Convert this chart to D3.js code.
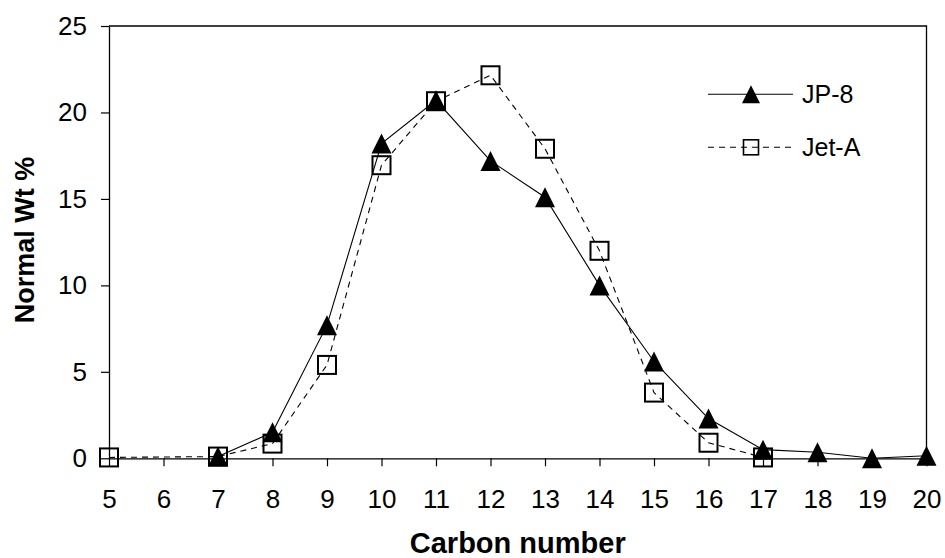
<!DOCTYPE html>
<html>
<head>
<meta charset="utf-8">
<script src="https://cdn.jsdelivr.net/npm/d3@7"></script>
<style>
  html, body { margin: 0; padding: 0; background: #fff; }
  svg { display: block; font-family: "Liberation Sans", Arial, sans-serif; }
</style>
</head>
<body>
<svg id="chart" width="945" height="558"></svg>
<script>
// Carbon number distribution of two jet fuels (normalised weight %)
const jp8Carbon = [7, 8, 9, 10, 11, 12, 13, 14, 15, 16, 17, 18, 19, 20];
const jp8Values = [0.1, 1.5, 7.7, 18.2, 20.7, 17.2, 15.1, 10.0, 5.6, 2.3, 0.5, 0.35, 0.0, 0.15];
const jetACarbon = [5, 7, 8, 9, 10, 11, 12, 13, 14, 15, 16, 17];
const jetAValues = [0.05, 0.1, 0.85, 5.4, 16.95, 20.65, 22.15, 17.9, 12.0, 3.8, 0.9, 0.05];
const xTicks = [5, 6, 7, 8, 9, 10, 11, 12, 13, 14, 15, 16, 17, 18, 19, 20];
const yTicks = [0, 5, 10, 15, 20, 25];
const seriesNames = ["JP-8", "Jet-A"];

const svg = d3.select("#chart");
const plotL = 109, plotR = 926.5, plotT = 26, plotB = 458.3;

const x = d3.scaleLinear().domain([5, 20]).range([plotL, plotR]);
const y = d3.scaleLinear().domain([0, 25]).range([plotB, plotT]);

// frame (top and right edges)
svg.append("path")
  .attr("d", `M${plotL},${plotT}H${plotR}V${plotB}`)
  .attr("fill", "none").attr("stroke", "#000").attr("stroke-width", 1.3);

// y axis
const yAxis = svg.append("g")
  .attr("transform", `translate(${plotL},0)`)
  .call(d3.axisLeft(y).tickValues(yTicks).tickSize(8).tickPadding(14).tickSizeOuter(0));
yAxis.selectAll("text").attr("font-size", 26).attr("fill", "#000")
  .attr("font-family", "Liberation Sans, Arial, sans-serif");

// x axis
const xAxis = svg.append("g")
  .attr("transform", `translate(0,${plotB})`)
  .call(d3.axisBottom(x).tickValues(xTicks).tickSize(8).tickPadding(23).tickSizeOuter(0));
xAxis.selectAll("text").attr("font-size", 26).attr("fill", "#000")
  .attr("font-family", "Liberation Sans, Arial, sans-serif");

[yAxis, xAxis].forEach(a => {
  a.select(".domain").attr("stroke", "#000").attr("stroke-width", 1.3);
  a.selectAll(".tick line").attr("stroke", "#000").attr("stroke-width", 1.2);
});

// axis titles
svg.append("text")
  .attr("x", (plotL + plotR) / 2).attr("y", 553)
  .attr("text-anchor", "middle").attr("font-size", 29).attr("font-weight", "bold")
  .text("Carbon number");
svg.append("text")
  .attr("transform", `translate(34,240) rotate(-90)`)
  .attr("text-anchor", "middle").attr("font-size", 27).attr("font-weight", "bold")
  .text("Normal Wt %");

const line = d3.line().x(d => x(d[0])).y(d => y(d[1]));
const jetA = jetACarbon.map((c, i) => [c, jetAValues[i]]);
const jp8 = jp8Carbon.map((c, i) => [c, jp8Values[i]]);

const triSize = 20, sqSize = 18;
function triPath(cx, cy, s) {
  const h = s;
  return `M${cx},${cy - h / 2}L${cx + s / 2},${cy + h / 2}L${cx - s / 2},${cy + h / 2}Z`;
}

// Jet-A: dashed line, open squares
svg.append("path").datum(jetA).attr("d", line)
  .attr("fill", "none").attr("stroke", "#000").attr("stroke-width", 1.1)
  .attr("stroke-dasharray", "6,5");
svg.append("g").selectAll("rect").data(jetA).join("rect")
  .attr("x", d => x(d[0]) - sqSize / 2).attr("y", d => y(d[1]) - sqSize / 2)
  .attr("width", sqSize).attr("height", sqSize)
  .attr("fill", "none").attr("stroke", "#000").attr("stroke-width", 2);

// JP-8: solid line, filled triangles
svg.append("path").datum(jp8).attr("d", line)
  .attr("fill", "none").attr("stroke", "#000").attr("stroke-width", 1.1);
svg.append("g").selectAll("path").data(jp8).join("path")
  .attr("d", d => triPath(x(d[0]), y(d[1]), triSize))
  .attr("fill", "#000");

// legend
const legX0 = 708, legX1 = 793, legMid = 751, legText = 802;
const legY = [94.3, 147.3];
svg.append("line").attr("x1", legX0).attr("x2", legX1).attr("y1", legY[0]).attr("y2", legY[0])
  .attr("stroke", "#000").attr("stroke-width", 1.1);
svg.append("path").attr("d", triPath(legMid, legY[0], 18)).attr("fill", "#000");
svg.append("line").attr("x1", legX0).attr("x2", legX1).attr("y1", legY[1]).attr("y2", legY[1])
  .attr("stroke", "#000").attr("stroke-width", 1.1).attr("stroke-dasharray", "6,5");
svg.append("rect").attr("x", legMid - 7.5).attr("y", legY[1] - 7.5)
  .attr("width", 15).attr("height", 15)
  .attr("fill", "none").attr("stroke", "#000").attr("stroke-width", 1.6);
seriesNames.forEach((n, i) => {
  svg.append("text").attr("x", legText).attr("y", legY[i] + 9)
    .attr("font-size", 25).text(n);
});
</script>
</body>
</html>
